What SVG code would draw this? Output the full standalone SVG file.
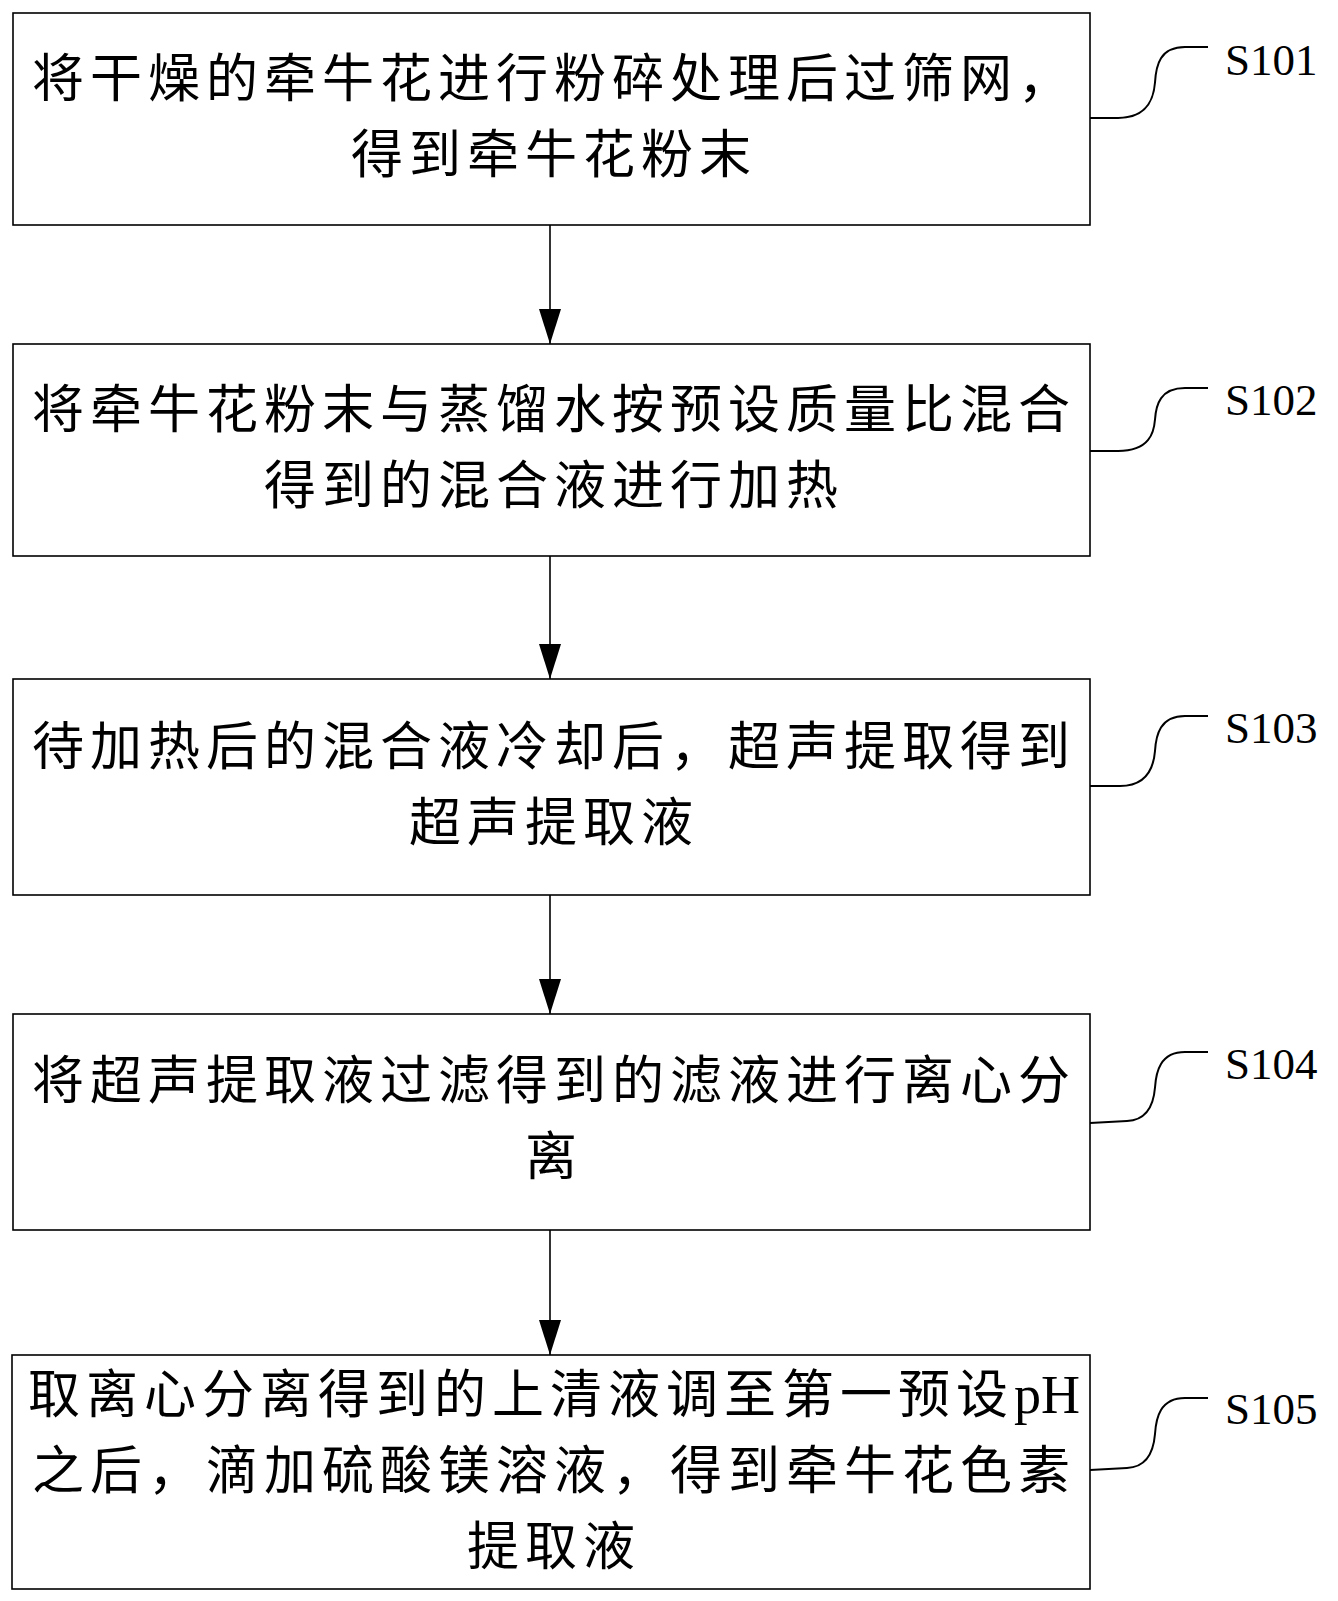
<svg xmlns="http://www.w3.org/2000/svg" width="1338" height="1601" viewBox="0 0 1338 1601">
<style>
.box{fill:#fff;stroke:#000;stroke-width:1.6}
.t{font-family:"Noto Sans CJK SC","Noto Sans CJK JP",sans-serif;font-size:52px;letter-spacing:6px;fill:#000;text-anchor:middle}
.lat{font-family:"Liberation Serif",serif;font-size:54px;letter-spacing:0}
.lbl{font-family:"Liberation Serif","Times New Roman",serif;font-size:45px;fill:#000}
.con{fill:none;stroke:#000;stroke-width:1.6}
.crv{fill:none;stroke:#000;stroke-width:2}
</style>
<defs>
<marker id="ah" viewBox="0 0 35 22" refX="35" refY="11" markerWidth="35" markerHeight="22" markerUnits="userSpaceOnUse" orient="auto">
<path d="M0,0 L35,11 L0,22 z" fill="#000"/>
</marker>
</defs>
<rect width="1338" height="1601" fill="#fff"/>
<g id="connectors">
<line class="con" x1="550" y1="225" x2="550" y2="344" marker-end="url(#ah)"/>
<line class="con" x1="550" y1="556" x2="550" y2="679" marker-end="url(#ah)"/>
<line class="con" x1="550" y1="895" x2="550" y2="1014" marker-end="url(#ah)"/>
<line class="con" x1="550" y1="1230" x2="550" y2="1355" marker-end="url(#ah)"/>
<path class="crv" d="M1090,118 H1118 C1150,118 1154,95 1155,82.5 C1156,65 1160,47 1185,47 H1208"/>
<path class="crv" d="M1090,451 H1118 C1150,451 1154,432 1155,419.5 C1156,405 1160,388 1185,388 H1208"/>
<path class="crv" d="M1090,786 H1120 C1150,786 1154,763 1155,751 C1156,735 1160,716 1185,716 H1208"/>
<path class="crv" d="M1090,1123 L1127,1121 C1150,1120 1154,1100 1155,1087.5 C1156,1072 1160,1052 1185,1052 H1208"/>
<path class="crv" d="M1090,1470 L1127,1468 C1150,1467 1154,1446 1155,1434 C1156,1418 1160,1398 1185,1398 H1208"/>
</g>
<g id="S101">
<rect class="box" x="13" y="13" width="1077" height="212"/>
<text class="t" x="554" y="97">将干燥的牵牛花进行粉碎处理后过筛网，</text>
<text class="t" x="554" y="173">得到牵牛花粉末</text>
<text class="lbl" x="1225" y="75">S101</text>
</g>
<g id="S102">
<rect class="box" x="13" y="344" width="1077" height="212"/>
<text class="t" x="554" y="428">将牵牛花粉末与蒸馏水按预设质量比混合</text>
<text class="t" x="554" y="504">得到的混合液进行加热</text>
<text class="lbl" x="1225" y="415">S102</text>
</g>
<g id="S103">
<rect class="box" x="13" y="679" width="1077" height="216"/>
<text class="t" x="554" y="765">待加热后的混合液冷却后，超声提取得到</text>
<text class="t" x="554" y="841">超声提取液</text>
<text class="lbl" x="1225" y="743">S103</text>
</g>
<g id="S104">
<rect class="box" x="13" y="1014" width="1077" height="216"/>
<text class="t" x="554" y="1099">将超声提取液过滤得到的滤液进行离心分</text>
<text class="t" x="554" y="1175">离</text>
<text class="lbl" x="1225" y="1079">S104</text>
</g>
<g id="S105">
<rect class="box" x="12" y="1355" width="1078" height="234"/>
<text class="t" x="554" y="1413">取离心分离得到的上清液调至第一预设<tspan class="lat">pH</tspan></text>
<text class="t" x="554" y="1489">之后，滴加硫酸镁溶液，得到牵牛花色素</text>
<text class="t" x="554" y="1565">提取液</text>
<text class="lbl" x="1225" y="1424">S105</text>
</g>
</svg>
